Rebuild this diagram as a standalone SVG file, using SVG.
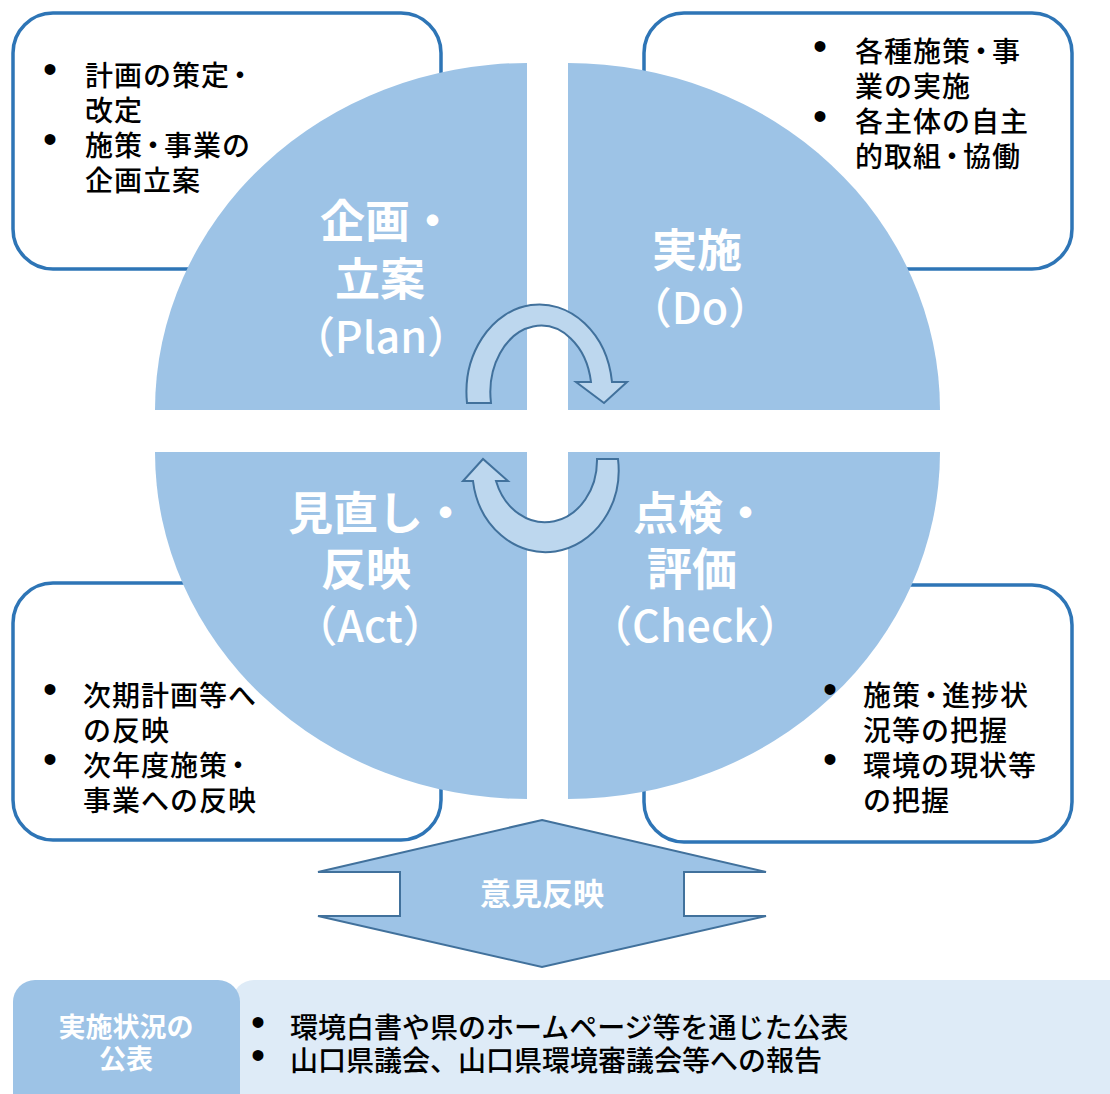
<svg xmlns="http://www.w3.org/2000/svg" width="1110" height="1094" viewBox="0 0 1110 1094">
<style>
.box{fill:#ffffff;stroke:#2E75B6;stroke-width:3.5}
.quad{fill:#9DC3E6;stroke:none}
.cyc{fill:#BDD7EE;stroke:#41719C;stroke-width:2;stroke-linejoin:miter}
.big{fill:#9DC3E6;stroke:#41719C;stroke-width:2}
.t{font-family:"Noto Sans CJK JP","Noto Sans",sans-serif;font-size:28px;font-weight:500;fill:#000;letter-spacing:1px}
.bt{font-family:"Noto Sans CJK JP","Noto Sans",sans-serif;font-size:28px;font-weight:500;fill:#000}
.bl{font-family:"Liberation Sans",Arial,sans-serif;font-size:40px;font-weight:normal;letter-spacing:0}
.lbl{font-family:"Noto Sans CJK JP","Noto Sans",sans-serif;font-size:45px;font-weight:bold;fill:#fff;text-anchor:middle}
.lat{font-size:43px;font-weight:500}
.w{font-family:"Noto Sans CJK JP","Noto Sans",sans-serif;font-weight:bold;fill:#fff;text-anchor:middle}
</style>

<g id="box-plan">
<rect class="box" x="13" y="13" width="428" height="256" rx="40"/>
</g>
<g id="box-do">
<rect class="box" x="644" y="13" width="428" height="256" rx="40"/>
</g>
<g id="box-act">
<rect class="box" x="13" y="583" width="428" height="257" rx="40"/>
</g>
<g id="box-check">
<rect class="box" x="644" y="585" width="428" height="257" rx="40"/>
</g>

<g id="quad-plan"><path class="quad" d="M527,410 L155,410 A372,347 0 0 1 527,63 Z"/></g>
<g id="quad-do"><path class="quad" d="M568,410 L568,63 A372,347 0 0 1 940,410 Z"/></g>
<g id="quad-check"><path class="quad" d="M568,452 L940,452 A372,347 0 0 1 568,799 Z"/></g>
<g id="quad-act"><path class="quad" d="M527,452 L527,799 A372,347 0 0 1 155,452 Z"/></g>

<g id="connectors">
<path class="cyc" d="M467,403 A73,88 0 0 1 612,382 L627,382 L604,403 L576,382 L591,382 A50,66 0 0 0 491,403 Z"/>
<path class="cyc" d="M618,459 A73,82 0 0 1 473,481 L463,481 L483,459 L508,481 L496,481 A52,62 0 0 0 597,459 Z"/>
<path class="big" d="M542,820 L766,872 L684,872 L684,916 L766,916 L542,967 L318,916 L400,916 L400,872 L318,872 Z"/>
</g>

<g id="text-plan">
<text class="t"><tspan class="bl" x="43" y="83">•</tspan><tspan x="85" y="86">計画の策定</tspan><tspan dx="-4">・</tspan><tspan x="85" y="121">改定</tspan><tspan class="bl" x="43" y="153">•</tspan><tspan x="85" y="156">施策</tspan><tspan dx="-4">・</tspan><tspan dx="-4">事業の</tspan><tspan x="85" y="191">企画立案</tspan></text>
</g>
<g id="text-do">
<text class="t"><tspan class="bl" x="813" y="60">•</tspan><tspan x="855" y="62">各種施策</tspan><tspan dx="-4">・</tspan><tspan dx="-4">事</tspan><tspan x="855" y="97">業の実施</tspan><tspan class="bl" x="813" y="130">•</tspan><tspan x="855" y="132">各主体の自主</tspan><tspan x="855" y="167">的取組</tspan><tspan dx="-4">・</tspan><tspan dx="-4">協働</tspan></text>
</g>
<g id="text-act">
<text class="t"><tspan class="bl" x="43" y="703">•</tspan><tspan x="83" y="706">次期計画等へ</tspan><tspan x="83" y="741">の反映</tspan><tspan class="bl" x="43" y="773">•</tspan><tspan x="83" y="776">次年度施策</tspan><tspan dx="-4">・</tspan><tspan x="83" y="811">事業への反映</tspan></text>
</g>
<g id="text-check">
<text class="t"><tspan class="bl" x="823" y="703">•</tspan><tspan x="863" y="706">施策</tspan><tspan dx="-4">・</tspan><tspan dx="-4">進捗状</tspan><tspan x="863" y="741">況等の把握</tspan><tspan class="bl" x="823" y="773">•</tspan><tspan x="863" y="776">環境の現状等</tspan><tspan x="863" y="811">の把握</tspan></text>
</g>

<g id="label-plan">
<text class="lbl"><tspan x="387.5" y="238">企画・</tspan><tspan x="380" y="296">立案</tspan><tspan class="lat" x="381" y="353">（Plan）</tspan></text>
</g>
<g id="label-do">
<text class="lbl"><tspan x="697" y="267">実施</tspan><tspan class="lat" x="700" y="324">（Do）</tspan></text>
</g>
<g id="label-act">
<text class="lbl"><tspan x="378" y="530">見直し・</tspan><tspan x="366" y="586">反映</tspan><tspan class="lat" x="370" y="642">（Act）</tspan></text>
</g>
<g id="label-check">
<text class="lbl"><tspan x="700.5" y="530">点検・</tspan><tspan x="692" y="586">評価</tspan><tspan class="lat" x="695" y="642">（Check）</tspan></text>
</g>

<g id="feedback">
<text class="w" x="542" y="905" font-size="31">意見反映</text>
</g>

<g id="publish">
<rect x="232" y="980" width="900" height="140" rx="22" fill="#DEEBF7"/>
<rect x="13" y="980" width="227" height="140" rx="22" fill="#9DC3E6"/>
<text class="w" font-size="27"><tspan x="126" y="1037">実施状況の</tspan><tspan x="126" y="1069">公表</tspan></text>
<text class="bt"><tspan class="bl" x="251" y="1036">•</tspan><tspan x="290" y="1038">環境白書や県のホームページ等を通じた公表</tspan><tspan class="bl" x="251" y="1069">•</tspan><tspan x="290" y="1071">山口県議会、山口県環境審議会等への報告</tspan></text>
</g>
</svg>
